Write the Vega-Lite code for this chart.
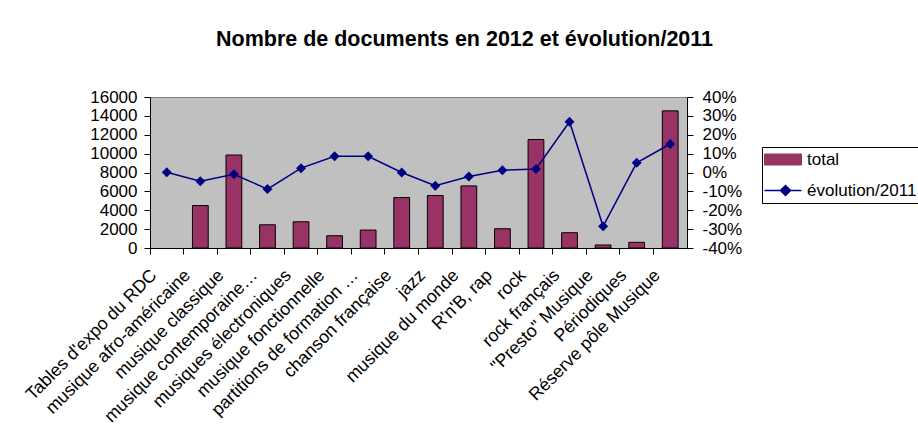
{
  "$schema": "https://vega.github.io/schema/vega-lite/v6.json",
  "width": 537,
  "height": 151,
  "autosize": {"type": "none"},
  "padding": {"left": 150, "top": 97, "right": 231, "bottom": 195},
  "background": "white",
  "title": {
    "text": "Nombre de documents en 2012 et évolution/2011",
    "font": "Liberation Sans",
    "fontSize": 21.5,
    "fontWeight": "bold",
    "color": "black",
    "anchor": "middle",
    "dx": 46,
    "offset": 38
  },
  "data": {
    "values": [
      {"categorie": "Tables d'expo du RDC", "total": null, "evolution": 0.001},
      {"categorie": "musique afro-américaine", "total": 4500, "evolution": -0.046},
      {"categorie": "musique classique", "total": 9850, "evolution": -0.009},
      {"categorie": "musique contemporaine…", "total": 2460, "evolution": -0.088},
      {"categorie": "musiques électroniques", "total": 2780, "evolution": 0.023},
      {"categorie": "musique fonctionnelle", "total": 1300, "evolution": 0.086},
      {"categorie": "partitions de formation …", "total": 1900, "evolution": 0.086},
      {"categorie": "chanson française", "total": 5350, "evolution": 0.0},
      {"categorie": "jazz", "total": 5560, "evolution": -0.07},
      {"categorie": "musique du monde", "total": 6580, "evolution": -0.021},
      {"categorie": "R'n'B, rap", "total": 2040, "evolution": 0.012},
      {"categorie": "rock", "total": 11500, "evolution": 0.019},
      {"categorie": "rock français", "total": 1620, "evolution": 0.269},
      {"categorie": "\"Presto\" Musique", "total": 320, "evolution": -0.285},
      {"categorie": "Périodiques", "total": 600, "evolution": 0.051},
      {"categorie": "Réserve pôle Musique", "total": 14530, "evolution": 0.151}
    ]
  },
  "encoding": {
    "x": {
      "field": "categorie",
      "type": "nominal",
      "sort": null,
      "scale": {
        "domain": ["Tables d'expo du RDC", "musique afro-américaine", "musique classique", "musique contemporaine…", "musiques électroniques", "musique fonctionnelle", "partitions de formation …", "chanson française", "jazz", "musique du monde", "R'n'B, rap", "rock", "rock français", "\"Presto\" Musique", "Périodiques", "Réserve pôle Musique"],
        "paddingInner": 0,
        "paddingOuter": 0
      },
      "axis": {
        "title": null,
        "labelAngle": -45,
        "bandPosition": 0,
        "labelOffset": -19,
        "labelPadding": 12,
        "tickSize": 6,
        "labelFontSize": 17.8,
        "labelColor": "black",
        "domainColor": "black",
        "tickColor": "black",
        "labelLimit": 400,
        "labelOverlap": false
      }
    }
  },
  "layer": [
    {
      "mark": {"type": "bar", "stroke": "black", "strokeWidth": 1, "width": {"band": 0.47}},
      "encoding": {
        "y": {
          "field": "total",
          "type": "quantitative",
          "scale": {"domain": [0, 16000], "nice": false},
          "axis": {
            "title": null,
            "values": [0, 2000, 4000, 6000, 8000, 10000, 12000, 14000, 16000],
            "format": "d",
            "tickSize": 6,
            "labelPadding": 7,
            "labelFontSize": 17,
            "labelColor": "black",
            "domainColor": "black",
            "tickColor": "black"
          }
        },
        "color": {
          "datum": "total",
          "type": "nominal",
          "scale": {"domain": ["total", "évolution/2011"], "range": ["#993366", "#000080"]},
          "legend": {
            "orient": "none",
            "legendX": 612,
            "legendY": 50,
            "title": null,
            "strokeColor": "black",
            "fillColor": "white",
            "padding": 4,
            "labelFontSize": 17,
            "labelColor": "black",
            "labelOffset": 24,
            "symbolSize": 400,
            "symbolType": "M-1,-0.55H2.7V0.55H-1Z",
            "rowPadding": 13,
            "labelLimit": 300,
            "encode": {
              "symbols": {
                "update": {
                  "shape": {"signal": "datum.value === 'total' ? 'M-1,-0.55H2.7V0.55H-1Z' : 'M-1,0H2.7M1.1,-0.5L1.6,0L1.1,0.5L0.6,0Z'"},
                  "fill": {"signal": "datum.value === 'total' ? '#993366' : '#000080'"},
                  "stroke": {"signal": "datum.value === 'total' ? 'black' : '#000080'"},
                  "strokeWidth": {"signal": "datum.value === 'total' ? 1 : 1.5"},
                  "opacity": {"value": 1},
                  "fillOpacity": {"value": 1}
                }
              }
            }
          }
        }
      }
    },
    {
      "mark": {"type": "line", "strokeWidth": 1.5, "point": {"filled": true, "shape": "diamond", "size": 100}},
      "encoding": {
        "y": {
          "field": "evolution",
          "type": "quantitative",
          "scale": {"domain": [-0.4, 0.4], "nice": false},
          "axis": {
            "orient": "right",
            "title": null,
            "values": [-0.4, -0.3, -0.2, -0.1, 0, 0.1, 0.2, 0.3, 0.4],
            "labelExpr": "round(datum.value * 100) + '%'",
            "tickSize": 6,
            "labelPadding": 9,
            "labelFontSize": 17,
            "labelColor": "black",
            "domainColor": "black",
            "tickColor": "black"
          }
        },
        "color": {
          "datum": "évolution/2011",
          "type": "nominal",
          "legend": {
            "orient": "none",
            "legendX": 612,
            "legendY": 50,
            "title": null,
            "strokeColor": "black",
            "fillColor": "white",
            "padding": 4,
            "labelFontSize": 17,
            "labelColor": "black",
            "labelOffset": 24,
            "symbolSize": 400,
            "symbolType": "M-1,-0.55H2.7V0.55H-1Z",
            "rowPadding": 13,
            "labelLimit": 300,
            "encode": {
              "symbols": {
                "update": {
                  "shape": {"signal": "datum.value === 'total' ? 'M-1,-0.55H2.7V0.55H-1Z' : 'M-1,0H2.7M1.1,-0.5L1.6,0L1.1,0.5L0.6,0Z'"},
                  "fill": {"signal": "datum.value === 'total' ? '#993366' : '#000080'"},
                  "stroke": {"signal": "datum.value === 'total' ? 'black' : '#000080'"},
                  "strokeWidth": {"signal": "datum.value === 'total' ? 1 : 1.5"},
                  "opacity": {"value": 1},
                  "fillOpacity": {"value": 1}
                }
              }
            }
          }
        }
      }
    }
  ],
  "resolve": {"scale": {"y": "independent"}},
  "config": {
    "font": "Liberation Sans",
    "view": {"fill": "#C0C0C0", "stroke": "#808080"},
    "axis": {"grid": false}
  }
}
